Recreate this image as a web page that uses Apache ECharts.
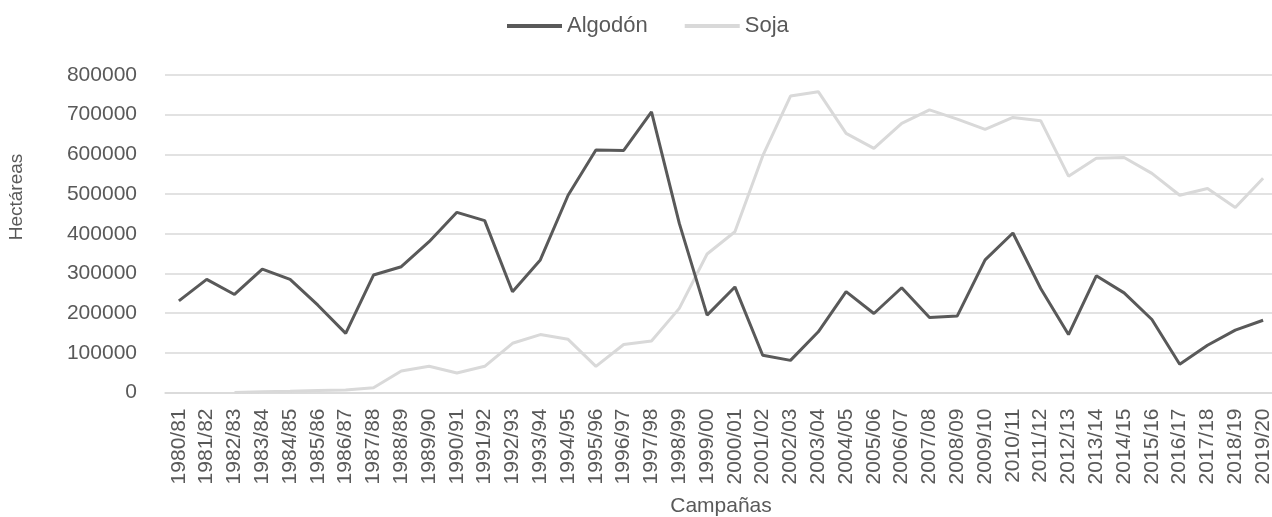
<!DOCTYPE html>
<html>
<head>
<meta charset="utf-8">
<script src="https://cdn.jsdelivr.net/npm/echarts@6/dist/echarts.min.js"></script>
<style>
html,body{margin:0;padding:0;background:#fff;}
#chart{width:1272px;height:517px;}
</style>
</head>
<body>
<div id="chart"></div>
<script>
const categories = ['1980/81','1981/82','1982/83','1983/84','1984/85','1985/86','1986/87','1987/88','1988/89','1989/90',
  '1990/91','1991/92','1992/93','1993/94','1994/95','1995/96','1996/97','1997/98','1998/99','1999/00',
  '2000/01','2001/02','2002/03','2003/04','2004/05','2005/06','2006/07','2007/08','2008/09','2009/10',
  '2010/11','2011/12','2012/13','2013/14','2014/15','2015/16','2016/17','2017/18','2018/19','2019/20'];
const algodon = [231000,285000,247000,311000,285000,220000,149000,296000,317000,380000,
  454000,433000,254000,334000,497000,611000,610000,707000,426000,195000,
  266000,94000,81000,153000,254000,199000,264000,189000,193000,334000,
  402000,262000,146000,294000,251000,184000,71000,119000,157000,182000];
const soja = [null,null,0,2000,3000,5000,6000,12000,54000,66000,
  49000,66000,124000,146000,134000,66000,121000,130000,212000,349000,
  405000,596000,747000,758000,653000,615000,678000,712000,689000,663000,
  693000,685000,545000,590000,592000,552000,497000,514000,466000,540000];
const yTicks = {min:0, max:800000, interval:100000};

const FONT = 'Liberation Sans';
const TXT = '#595959';
const chart = echarts.init(document.getElementById('chart'), null, {renderer:'canvas'});
chart.setOption({
  animation:false,
  textStyle:{fontFamily:FONT},
  legend:{
    left:502, top:10,
    itemWidth:55, itemHeight:4, itemGap:37,
    icon:'rect',
    textStyle:{fontSize:22, color:TXT, fontFamily:FONT},
    data:['Algodón','Soja']
  },
  grid:{left:165, width:1112, top:75, height:317.5, containLabel:false, outerBoundsMode:'none'},
  graphic:[{
    type:'text', x:17, y:197, rotation:Math.PI/2,
    style:{text:'Hectáreas', fill:TXT, font:'19px '+FONT, align:'center', verticalAlign:'middle'}
  }],
  xAxis:{
    type:'category', data:categories, boundaryGap:true,
    name:'Campañas', nameLocation:'middle', nameGap:103,
    nameTextStyle:{fontSize:21, color:TXT, fontFamily:FONT},
    axisLine:{lineStyle:{color:'#d9d9d9', width:1.5}},
    axisTick:{show:false},
    axisLabel:{rotate:90, interval:0, fontSize:21, color:TXT, margin:16, fontFamily:FONT}
  },
  yAxis:{
    type:'value', min:yTicks.min, max:yTicks.max, interval:yTicks.interval,
    axisLine:{show:false}, axisTick:{show:false},
    axisLabel:{fontSize:21, color:TXT, margin:28, fontFamily:FONT, formatter:function(v){return String(v);}},
    splitLine:{lineStyle:{color:'#d9d9d9', width:1.5}}
  },
  series:[
    {name:'Algodón', type:'line', data:algodon, symbol:'none', color:'#595959',
     lineStyle:{width:3, color:'#595959'}, z:3},
    {name:'Soja', type:'line', data:soja, symbol:'none', color:'#d9d9d9',
     lineStyle:{width:3, color:'#d9d9d9'}, z:2}
  ]
});
</script>
</body>
</html>
